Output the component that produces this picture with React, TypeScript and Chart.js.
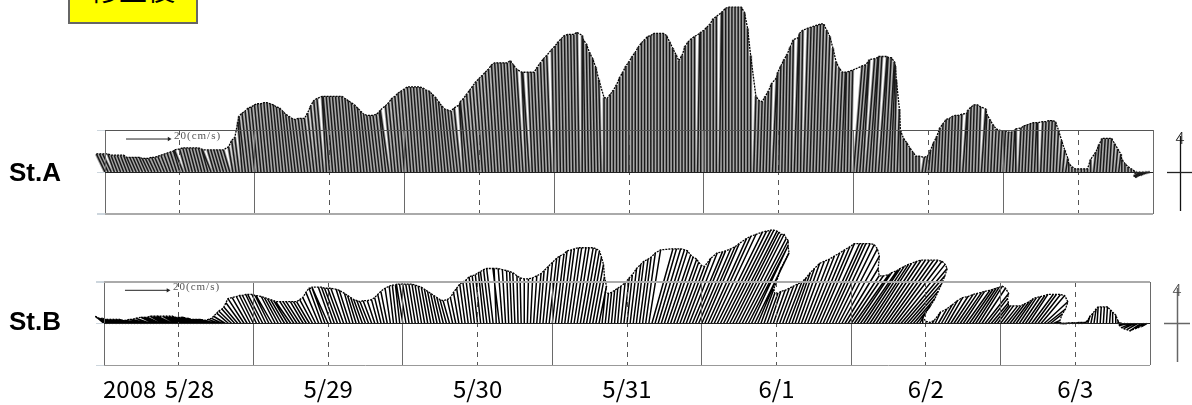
import React, { useEffect, useRef } from "react";
import { Chart, registerables } from "chart.js";

Chart.register(...registerables);

// Half-hourly current sticks, cm/s. East component (u), north component (v).
const uA = [
  -4,-4,-4,-3,-3,-3,-3,-3,-3,-3,-3,-3,-3,-3,-3,-3,
  -3,-3,-3,-3,-3,-3,-3,-3,-3,-4,-3,-3,-3,-3,-3,-3,
  -3,-3,-4,-3,-3,-3,-3,-3,-3,-2,-2,-2,-2,-3,-3,-3,
  -3,-3,-3,-3,-3,-3,-3,-3,-3,-3,-3,-3,-3,-3,-3,-3,
  -3,-3,-3,-3,-3,-3,-3,-2,-3,-3,-3,-3,-3,-3,-3,-3,
  -3,-3,-3,-3,-3,-3,-3,-3,-3,-3,-3,-4,-3,-3,-3,-3,
  -3,-3,-3,-3,-3,-3,-3,-3,-3,-3,-3,-3,-3,-3,-3,-3,
  -3,-3,-3,-2,-3,-3,-3,-3,-3,-3,-3,-3,-3,-3,-3,-3,
  -3,-3,-3,-3,-3,-3,-3,-2,-3,-2,-2,-2,-2,-2,-2,-2,
  -1,-1,-1,-1,-1,-1,-1,-1,-1,0,-1,-1,-1,-1,-1,-1,
  0,0,0,0,0,0,0,0,0,0,0,0,0,0,0,0,
  0,0,0,0,0,0,0,0,0,0,0,0,0,0,1,0,
  0,0,0,0,0,1,0,0,0,0,0,0,0,0,0,0,
  1,1,1,1,1,1,2,1,1,1,1,1,1,2,1,1,
  2,2,2,2,2,2,2,2,2,2,2,2,2,1,1,1,
  4,4,4,3,4,4,3,3,4,3,3,3,2,1,1,0,
  0,0,0,0,0,0,1,1,1,1,1,1,1,1,1,1,
  1,1,1,2,1,1,1,1,1,2,1,1,1,1,1,1,
  1,1,1,1,0,1,1,1,1,1,1,0,1,1,1,1,
  1,1,1,1,1,0,0,0,0,0,0,0,0,1,1,1,
  1,1,1,1,1,1,0,0,0,0,0,-1,-3,-4,-3,-2,
];
const vA = [
  8.6,8.6,8.6,8.6,8,8,8,8,8,7,7,7,7,7,6.5,6.5,
  6.5,7,7,7.5,8,8.5,9,9.5,10,10.5,11,11.5,11.5,11.5,11.5,11.5,
  11.5,11,10.5,10.5,10.5,10.5,10.5,10.5,10.5,12,15,16.5,24,26.5,28,29,
  30.5,31,32,32.5,32.5,33,33,32.5,32,31,30.5,29,27.5,26.5,25.5,25,
  25.5,25.5,25.5,28,31.5,34,35,36,36,36,36,36,36,36,36,35,
  34,33,32,30.5,29,27.5,27,27,27,27.5,28.5,29.5,31.5,33,35,36,
  37.5,38.5,39.5,40.5,40.5,40.5,40.5,40.5,40,39,38.5,37,35.5,33.5,31.5,30,
  29.5,29,30.5,32,33.5,35,37,39,41,43,44.5,46,47.5,49,51,52,
  52,52,52,52,53,51,49,47.5,47.5,47.5,47.5,47.5,50,52,54,55.5,
  58.5,60,62,63.5,65,65.5,65.5,65.5,66.5,65,63,61,57,54,50,44,
  35.5,35,37,39,41.5,45,47.5,50.5,52.5,55,57,59.5,61.5,63,64.5,65,
  66,66,66,66,65,62,59,56,53,55.5,60,62,63.5,64.5,66,66.5,
  67.5,69,70.5,73,74,76,76.5,78,78.5,78.5,78.5,78.5,78.5,76,68.5,55.5,
  36,34,33.5,36,38.5,42,45,47.5,50.5,53.5,56,59.5,63,64,66,67.5,
  68.5,69,69.5,70,70.5,70.5,67.5,64.5,59,52.5,49.5,47.5,47.5,47.5,48,48.5,
  50.5,51,52.5,53.5,54,54.5,55,55,55,54.5,54.5,52.5,50.5,44,30,20,
  16,14,11.5,9.5,7.5,7.5,7,7.5,10.5,14,17,21,23,25,25.5,26.5,
  27,27,27.5,28,29.5,31,32,32,31,30,27.5,25,22.5,20.5,20,19.5,
  19.5,19,19,20,20.5,21,22,22.5,23,23.5,23.5,23.5,24,24,24.5,24.5,
  24,20,15,10.5,6.5,4,2.5,1.5,1.5,1.5,1.5,1.5,6,9.5,13,16,
  16,16,16,13.5,11,8.5,6,4,2.5,1.5,0.5,-0.5,-2,-2.5,-1.5,-0.5,
];
const uB = [
  -4,-5,-5,-5,-6,-6,-6,-6,-6,-6,-6,-6,-7,-7,-7,-7,
  -6,-6,-6,-6,-6,-6,-7,-6,-6,-6,-6,-6,-6,-6,-7,-6,
  -6,-6,-6,-6,-5,-5,-5,-5.5,-5.5,-6,-6,-6.5,-7,-7.5,-7,-6.5,
  -6.5,-6.5,-6.5,-7,-6.5,-6.5,-7.5,-6.5,-6.5,-6.5,-6.5,-6.5,-7,-6.5,-6.5,-6.5,
  -6,-6,-6,-6,-6,-6,-6,-6,-7.5,-6,-6,-6,-6,-6,-5,-5,
  -4,-4,-4,-4,-4,-4,-4,-3.5,-3,-3,-3,-3,-2.5,-2,-2,-2,
  -3,-3,-3,-3,-3,-3,-3,-3,-3,-3,-3,-3,-3,-3,-3,-3,
  -2.5,-2.5,-2.5,-2.5,-2.5,-2.5,-2.5,-2.5,-2.5,-2.5,-2.5,-3,-3,-3,-1,-3,
  -2,-1.5,-1,-1,-1,-0.5,-0.5,0,0.5,1,1.5,2,2,2.5,3,3.5,
  3.5,4,4,4.5,4.5,5,5,5.5,5.5,6,6,6,5.5,5,4,3.5,
  1.5,1.5,1.5,1.5,1.5,1.5,2,2.5,2.5,3,3.5,3.5,4,4,4.5,5.5,
  9.8,10,10.5,10.8,10.8,10.8,10.5,10.7,10.2,10,10,11.5,13,14,14,15,
  15.5,16,18,18.5,19.5,21,21.5,22,22,22,21.5,21,21,20.5,20,18.5,
  17,16,11,6,5,5,5,5.5,6,6.5,7,7.5,8,8.5,9,10,
  10.7,11.6,12.5,13.5,14.4,15.3,16,17,17,17,17.5,18,18,17.5,15.5,14.5,
  15,16,16,17,17,17.5,18,18,19,19.5,20,20.5,21,21.5,22,22,
  21.5,19,16,13,10,6.5,3,0,0,0.5,1,2.5,4,5,6,7,
  8,9,9.5,10,10,11,11,11,11,11,11,11,9,8,6.5,6,
  6,6.5,6.5,7,7.5,8,8,8.5,9,9,10,10,10.5,11,11,8.5,
  5.5,3,1.5,1.5,1.5,1.5,2,2,2,2,2,1.5,1,1,1,0.5,
  0.5,0.5,0.5,0.5,0,0,-0.5,-2,-3,-4,-4.5,-5,-5,-5,-4,-2.5,
];
const vB = [
  3.5,3,2.5,2.5,2,2,2,2,2,2,1.5,1.5,1.5,2,2,2.5,
  3,3,3,3.5,3.5,3.5,3.5,3.5,3.5,3.5,3.5,3,3,3,3,2.5,
  2,2,2,2,1.5,2,2.5,3.5,5,6,7,8,10,12,12.5,13,
  13.5,13.5,14,14,14,13.5,13.5,13,12.5,12,11.5,11,10.5,10.5,10.5,10.5,
  10.5,10.5,10.5,11.5,12.5,15,17,17,17.5,17.5,17.5,17,17,17,16.5,16,
  14.5,13.5,12.5,11.5,11,10.5,11,11,11.5,12.5,14,15.5,17,18,18.5,18.5,
  19,19,19,19,19,19,18.5,18,17.5,16.5,15.5,14.5,13.5,12.5,11.5,11,
  11.5,12.5,15,17,19,20,21,22.5,23,23.5,24.5,25,26,26.5,26.5,26.5,
  26.5,26,25.5,25,24.5,23,22,21.5,21.5,22,23,24,25.5,27.5,29.5,31.5,
  32.5,33.5,35,35.5,36,36.5,36.5,36.5,36.5,36.5,36,35,32,28.5,22.5,18,
  15,14.5,15,16,17,18,19.5,22,23.5,26.5,28.5,30,31,32,34,35.5,
  36,36,36,35.5,35,33,32,31,29.5,28,27.5,31.5,34,34.5,35,36,
  37,38.5,41,42,43,44,44.5,45,45,44.5,44,43,43,41,40,37.5,
  37.5,34,27,16.5,14.5,14.5,15.5,16,17,18,19,20,22,24.5,26.5,29,
  30,31,32.5,34,35.5,37,38.5,38.5,38.5,38.5,38.5,38,36,32.5,26.5,23,
  23,23.5,24.5,25.5,26.5,27.5,28.5,29,30,30.5,30.5,30.5,30.5,30.5,30,28.5,
  26.5,23,19,15.5,12,8.5,5.5,3,1,0.5,1.5,5.5,7,9,11,12.5,
  13,14,14.5,15,15.5,16,16.5,17,17.5,18,17,14.5,12,10,8.5,8.5,
  8.5,8.5,8.5,9.5,10.5,12,12.5,13,13.5,14,14,14,14,13.5,10.5,7,
  4.5,1.5,0.5,0,0,0.2,0.3,0.4,0.5,0.5,0.5,1.5,3.5,5,7,8,
  8,8,8,6.5,5.5,4,1.5,0.5,-0.5,-1,-2,-2.5,-3,-3.5,-2.5,-1.5,
];
const dayLabels = ["    5/28", "5/29", "5/30", "5/31", "6/1", "6/2", "6/3"];
const yearLabel = "2008";
const stationLabels = ["St.A", "St.B"];
const scaleLabel = "20(cm/s)";
const titleLabel = "修正後";

const STEP_HOURS = 0.5;
const TOTAL_HOURS = 168;
const ARROW_CM = 20;
const ARROW_HOURS = 6.9; // length of the 20 cm/s reference on the time axis
const H_PER_CM = ARROW_HOURS / ARROW_CM;

function buildSticks(u: number[], v: number[]) {
  const pts: { x: number; y: number }[] = [];
  u.forEach((ui, i) => {
    const t = i * STEP_HOURS;
    pts.push({ x: t, y: 0 }, { x: t + ui * H_PER_CM, y: v[i] }, { x: NaN, y: NaN });
  });
  return pts;
}
function buildTips(u: number[], v: number[]) {
  return u.map((ui, i) => ({ x: i * STEP_HOURS + ui * H_PER_CM, y: v[i] }));
}

type StickChartProps = {
  u: number[];
  v: number[];
  top: number;
  height: number;
  padding: { left: number; right: number; top: number; bottom: number };
  xHeight: number;
  showLabels: boolean;
  arrowY: number;
  stickWidth: number;
  stickColor: string;
  underColor: string | null;
  colors: { top: string; mid: string; bottom: string; topWidth: number; bottomWidth: number };
};

function StickChart({ u, v, top, height, padding, xHeight, showLabels, arrowY, stickWidth, stickColor, underColor, colors }: StickChartProps) {
  const ref = useRef<HTMLCanvasElement>(null);
  useEffect(() => {
    const arrowStart = 3.37;
    const chart = new Chart(ref.current!, {
      type: "scatter",
      data: {
        datasets: [
          {
            data: buildSticks(u, v),
            showLine: true,
            spanGaps: false,
            borderColor: stickColor,
            borderWidth: stickWidth,
            pointRadius: 0,
            clip: false,
          },
          {
            data: buildTips(u, v),
            showLine: true,
            borderColor: "#000",
            borderWidth: 1.3,
            borderDash: [2, 1],
            pointRadius: 0,
            clip: false,
          },
          {
            data: [
              { x: arrowStart, y: arrowY },
              { x: arrowStart + ARROW_HOURS, y: arrowY },
            ],
            showLine: true,
            borderColor: "#222",
            borderWidth: 1,
            pointRadius: [0, 2.5],
            pointStyle: "triangle",
            pointRotation: 90,
            pointBackgroundColor: "#222",
            pointBorderWidth: 0,
            clip: false,
          },
          {
            data: underColor ? buildSticks(u, v) : [],
            showLine: true,
            spanGaps: false,
            borderColor: underColor || "transparent",
            borderWidth: 3.2,
            pointRadius: 0,
            clip: false,
          },
        ],
      },
      options: {
        animation: false,
        responsive: false,
        layout: { padding },
        plugins: { legend: { display: false }, tooltip: { enabled: false } },
        scales: {
          x: {
            type: "linear",
            min: 0,
            max: TOTAL_HOURS,
            afterFit: (s: any) => {
              s.height = xHeight;
            },
            afterBuildTicks: (s: any) => {
              const t = [];
              for (let h = 0; h <= TOTAL_HOURS; h += 12) t.push({ value: h });
              s.ticks = t;
            },
            grid: {
              drawTicks: false,
              z: 1,
              color: (c: any) => (c.tick && c.tick.value % 24 === 12 ? "#555" : "#6a6a6a"),
              lineWidth: 1,
            },
            border: {
              display: false,
              dash: (c: any) => (c.tick && c.tick.value % 24 === 12 ? [5, 5] : []),
            },
            ticks: {
              display: showLabels,
              autoSkip: false,
              maxRotation: 0,
              padding: 9,
              color: "#000",
              font: { family: "'Noto Sans CJK JP'", size: 24 },
              callback: (val: any) => {
                const h = Number(val);
                return h % 24 === 12 ? dayLabels[(h - 12) / 24] : "";
              },
            },
          },
          y: {
            min: -20,
            max: 20,
            afterBuildTicks: (s: any) => {
              s.ticks = [{ value: -20 }, { value: 0 }, { value: 20 }];
            },
            grid: {
              z: 1,
              tickLength: 8,
              color: (c: any) => (c.tick.value === 0 ? colors.mid : c.tick.value > 0 ? colors.top : colors.bottom),
              lineWidth: (c: any) => (c.tick.value === 20 ? colors.topWidth : c.tick.value === -20 ? colors.bottomWidth : 1),
              tickColor: "#cdd6dd",
            },
            border: { display: false },
            ticks: { display: false },
          },
        },
      },
    } as any);
    return () => chart.destroy();
  }, []);
  return (
    <canvas
      ref={ref}
      width={1192}
      height={height}
      style={{ position: "absolute", left: 0, top, width: 1192, height }}
    />
  );
}

const labelStyle: React.CSSProperties = {
  position: "absolute",
  whiteSpace: "nowrap",
  lineHeight: 1,
};

export default function App() {
  return (
    <div style={{ position: "fixed", left: 0, top: 0, width: 1192, height: 405, overflow: "hidden", background: "#fff" }}>
      <StickChart
        u={uA}
        v={vA}
        top={0}
        height={225}
        padding={{ left: 97, right: 39, top: 130, bottom: 11 }}
        xHeight={0}
        showLabels={false}
        arrowY={15.7}
        stickWidth={1.5}
        stickColor="#1a1a1a"
        underColor="#a8a8a8"
        colors={{ top: "#555", mid: "#222", bottom: "#aaa", topWidth: 1, bottomWidth: 2 }}
      />
      <StickChart
        u={uB}
        v={vB}
        top={225}
        height={180}
        padding={{ left: 96, right: 42, top: 57, bottom: 0 }}
        xHeight={40}
        showLabels={true}
        arrowY={16}
        stickWidth={1.5}
        stickColor="#000"
        underColor={null}
        colors={{ top: "#aaa", mid: "#222", bottom: "#999", topWidth: 2, bottomWidth: 1 }}
      />

      <div
        style={{
          position: "absolute",
          left: 68,
          top: -30,
          width: 126,
          height: 49.5,
          background: "#ffff00",
          border: "2px solid #666",
          textAlign: "center",
          fontFamily: "'Noto Sans CJK JP'",
          fontSize: 28,
          lineHeight: "35px",
          color: "#000",
        }}
      >
        {titleLabel}
      </div>

      <div style={{ ...labelStyle, left: 9, top: 159, fontFamily: "'Liberation Sans'", fontWeight: 700, fontSize: 26, color: "#000" }}>
        {stationLabels[0]}
      </div>
      <div style={{ ...labelStyle, left: 9, top: 308, fontFamily: "'Liberation Sans'", fontWeight: 700, fontSize: 26, color: "#000" }}>
        {stationLabels[1]}
      </div>
      <div style={{ ...labelStyle, left: 103, top: 376, fontFamily: "'Noto Sans CJK JP'", fontSize: 24, color: "#000" }}>
        {yearLabel}
      </div>
      <div style={{ ...labelStyle, left: 174, top: 130, fontFamily: "'Liberation Serif'", fontSize: 11, letterSpacing: 1, color: "#555" }}>
        {scaleLabel}
      </div>
      <div style={{ ...labelStyle, left: 173, top: 281, fontFamily: "'Liberation Serif'", fontSize: 11, letterSpacing: 1, color: "#555" }}>
        {scaleLabel}
      </div>

      <svg width={1192} height={405} style={{ position: "absolute", left: 0, top: 0 }}>
        <line x1={1180.5} y1={136} x2={1180.5} y2={211} stroke="#111" strokeWidth={1.3} />
        <line x1={1167} y1={172.5} x2={1192} y2={172.5} stroke="#222" strokeWidth={1.3} />
        <text x={1180} y={144} textAnchor="middle" fontFamily="'Noto Sans CJK JP'" fontWeight={300} fontSize={17} fill="#111">4</text>
        <line x1={1177.5} y1={288} x2={1177.5} y2={362} stroke="#666" strokeWidth={1.5} />
        <line x1={1164} y1={323.5} x2={1190} y2={323.5} stroke="#666" strokeWidth={1.5} />
        <text x={1177} y={296} textAnchor="middle" fontFamily="'Noto Sans CJK JP'" fontWeight={300} fontSize={17} fill="#444">4</text>
      </svg>
    </div>
  );
}
